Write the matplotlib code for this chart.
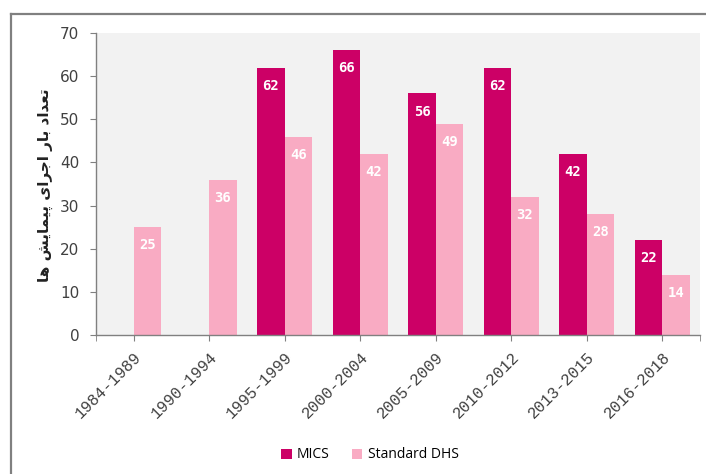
import matplotlib
matplotlib.use("Agg")
import matplotlib.pyplot as plt
from matplotlib.lines import Line2D
import numpy as np

categories = ["1984-1989", "1990-1994", "1995-1999", "2000-2004",
              "2005-2009", "2010-2012", "2013-2015", "2016-2018"]
mics = [None, None, 62, 66, 56, 62, 42, 22]
dhs = [25, 36, 46, 42, 49, 32, 28, 14]
series_names = ["MICS", "Standard DHS"]
yticks = [0, 10, 20, 30, 40, 50, 60, 70]

# Persian label "تعداد بار اجرای پیمایش‌ها" written with presentation forms in visual order
logical_forms = [0xFE97, 0xFECC, 0xFEAA, 0xFE8D, 0xFEA9, 0x20,
                 0xFE91, 0xFE8E, 0xFEAD, 0x20,
                 0xFE8D, 0xFE9F, 0xFEAE, 0xFE8D, 0xFBFC, 0x20,
                 0xFB58, 0xFBFF, 0xFEE4, 0xFE8E, 0xFBFE, 0xFEB6, 0x20,
                 0xFEEB, 0xFE8E]
ylabel = "".join(chr(c) for c in reversed(logical_forms))

c_mics = "#CC0066"
c_dhs = "#F9ABC3"

fig = plt.figure(figsize=(7.06, 4.74), dpi=100)
ax = fig.add_axes([96/706, 1-335/474, (700-96)/706, (335-33)/474])
ax.set_facecolor("#F2F2F2")

x = np.arange(len(categories))
w = 0.365
mx = [xi for xi, v in zip(x, mics) if v is not None]
mv = [v for v in mics if v is not None]
b1 = ax.bar(np.array(mx) - w/2, mv, width=w, color=c_mics, label=series_names[0])
b2 = ax.bar(x + w/2, dhs, width=w, color=c_dhs, label=series_names[1])

for bars in (b1, b2):
    for r in bars:
        ax.annotate(f"{int(r.get_height())}", (r.get_x() + r.get_width()/2, r.get_height()),
                    xytext=(0, -8), textcoords="offset points", ha="center", va="top",
                    color="white", fontsize=10, fontweight="bold", family="DejaVu Sans Mono")

ax.set_xlim(-0.5, len(categories) - 0.5)
ax.set_ylim(0, 70)
ax.set_yticks(yticks)
ax.set_yticklabels([str(t) for t in yticks], fontsize=11, color="#404040", family="DejaVu Sans")
ax.set_xticks(x)
ax.set_xticklabels(categories, rotation=45, ha="right", va="top", rotation_mode="anchor",
                   fontsize=11.5, color="#404040", family="Liberation Mono")
ax.set_xticks([-0.5, len(categories) - 0.5], minor=True)
ax.tick_params(axis="x", which="both", length=4, color="#808080", pad=6)
ax.tick_params(axis="y", length=4, color="#808080", pad=8)

for s in ["top", "right"]:
    ax.spines[s].set_visible(False)
for s in ["left", "bottom"]:
    ax.spines[s].set_color("#808080")
    ax.spines[s].set_linewidth(1.0)

fig.text(45/706, 1-185/474, ylabel, rotation=90, ha="center", va="center",
         fontsize=11, fontweight="bold", color="#222222", family="DejaVu Sans")

leg = fig.legend(handles=[b1, b2], labels=series_names, loc="center",
                 bbox_to_anchor=(370/706, 1-455/474), ncol=2, frameon=False,
                 handlelength=0.75, handleheight=0.75, handletextpad=0.4,
                 columnspacing=1.6, prop={"family": "Open Sans", "size": 10})

fig.add_artist(Line2D([11/706, 1.0], [1-14/474, 1-14/474], transform=fig.transFigure,
                      color="#808080", linewidth=1.6))
fig.add_artist(Line2D([11/706, 11/706], [0, 1-14/474], transform=fig.transFigure,
                      color="#808080", linewidth=1.6))

fig.savefig("out.png", dpi=100)
